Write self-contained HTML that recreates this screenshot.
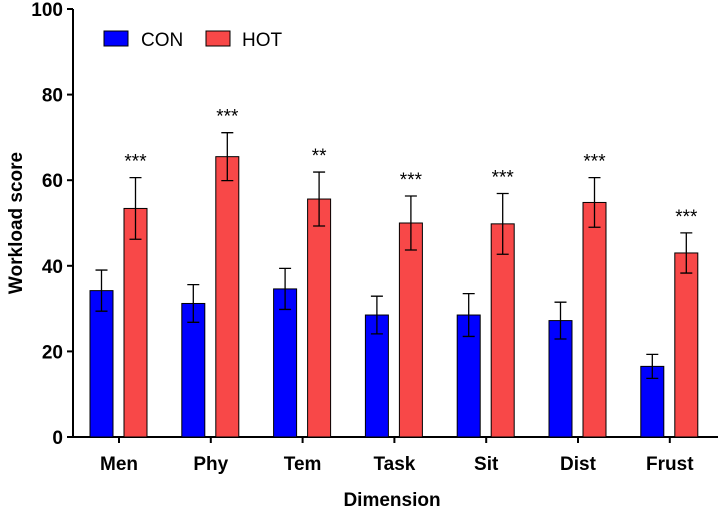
<!DOCTYPE html>
<html><head><meta charset="utf-8"><style>
body{margin:0;background:#fff}
svg{display:block;font-family:"Liberation Sans",Arial,sans-serif}
</style></head><body>
<svg id="c" width="720" height="511"></svg>
<script>
const categories=["Men","Phy","Tem","Task","Sit","Dist","Frust"];
const conValues=[34.2,31.2,34.6,28.5,28.5,27.2,16.5];
const conErr=[4.8,4.4,4.8,4.4,5.0,4.3,2.8];
const hotValues=[53.4,65.5,55.6,50.0,49.8,54.8,43.0];
const hotErr=[7.2,5.6,6.3,6.3,7.1,5.8,4.7];
const sigLabels=["***","***","**","***","***","***","***"];
const yTicks=[0,20,40,60,80,100];
const NS="http://www.w3.org/2000/svg";
const svg=document.getElementById('c');
const y=v=>437-v*4.28;
const xc=i=>119+i*91.8;
function mk(t,a,txt){const e=document.createElementNS(NS,t);for(const k in a)e.setAttribute(k,a[k]);if(txt!==undefined)e.textContent=txt;svg.appendChild(e);return e;}
let e;
e=mk('line',{x1:73,y1:y(100),x2:73,y2:437,stroke:'#000','stroke-width':2});

e=mk('line',{x1:72,y1:437,x2:718,y2:437,stroke:'#000','stroke-width':2});

yTicks.forEach(t=>{
 e=mk('line',{x1:67,y1:y(t),x2:73,y2:y(t),stroke:'#000','stroke-width':2});
 
 e=mk('text',{x:63,y:y(t)+7,'text-anchor':'end','font-size':19,'font-weight':'bold'},t);
 
});
function errbar(cx,v,er){
 e=mk('path',{d:`M${cx} ${y(v+er)}V${y(v-er)}M${cx-6} ${y(v+er)}H${cx+6}M${cx-6} ${y(v-er)}H${cx+6}`,stroke:'#000','stroke-width':1.3,fill:'none'});
 
}
categories.forEach((c,i)=>{
 const x=xc(i);
 e=mk('rect',{x:x-29,y:y(conValues[i]),width:23,height:437-y(conValues[i]),fill:'#0000ff',stroke:'#000','stroke-width':1});
 
 errbar(x-17.5,conValues[i],conErr[i]);
 e=mk('rect',{x:x+5,y:y(hotValues[i]),width:23,height:437-y(hotValues[i]),fill:'#f84848',stroke:'#000','stroke-width':1});
 
 errbar(x+16.5,hotValues[i],hotErr[i]);
 e=mk('text',{x:x+16.5,y:y(hotValues[i]+hotErr[i])-10,'text-anchor':'middle','font-size':19},sigLabels[i]);
 
 e=mk('line',{x1:x,y1:437,x2:x,y2:443,stroke:'#000','stroke-width':2});
 
 e=mk('text',{x:x,y:470,'text-anchor':'middle','font-size':19,'font-weight':'bold'},c);
 
});
e=mk('text',{x:392,y:506,'text-anchor':'middle','font-size':19,'font-weight':'bold'},'Dimension');

e=mk('text',{x:0,y:0,'text-anchor':'middle','font-size':19,'font-weight':'bold',transform:'translate(22,223) rotate(-90)'},'Workload score');

e=mk('rect',{x:104,y:31,width:24,height:15,fill:'#0000ff',stroke:'#000','stroke-width':1});

e=mk('text',{x:141,y:46,'font-size':19},'CON');

e=mk('rect',{x:206,y:31,width:24,height:15,fill:'#f84848',stroke:'#000','stroke-width':1});

e=mk('text',{x:242,y:46,'font-size':19},'HOT');

</script>
</body></html>
